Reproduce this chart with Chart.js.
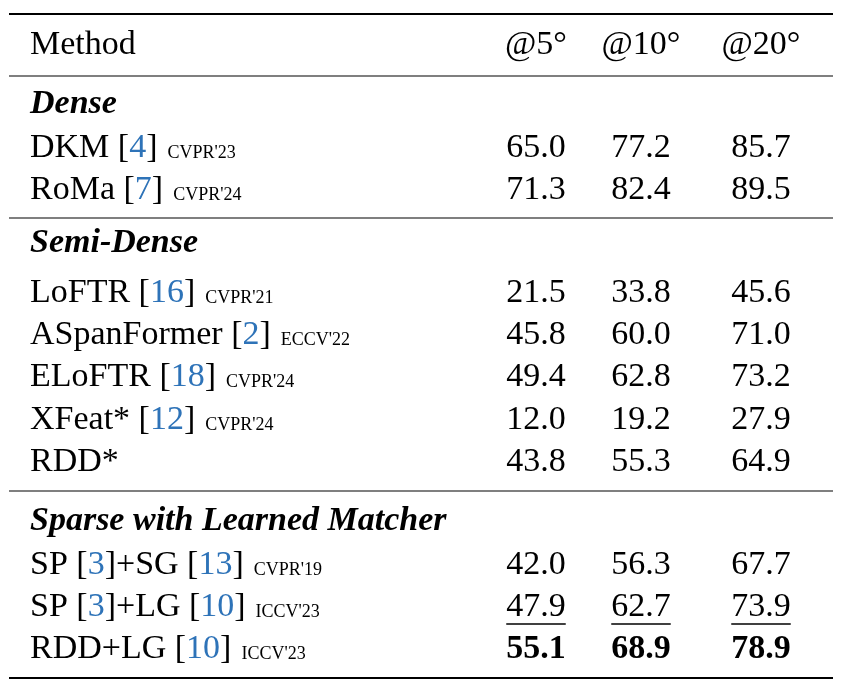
<!DOCTYPE html>
<html><head><meta charset="utf-8">
<script src="https://cdn.jsdelivr.net/npm/chart.js@4/dist/chart.umd.min.js"></script>
<style>html,body{margin:0;padding:0;background:#fff}#c{display:block}</style>
</head><body>
<div style="width:842px;height:686px"><canvas id="c"></canvas></div>
<script>
const headers = ['Method','@5°','@10°','@20°'];
const sections = ['Dense','Semi-Dense','Sparse with Learned Matcher'];
const methods = ['DKM [4]','RoMa [7]','LoFTR [16]','ASpanFormer [2]','ELoFTR [18]','XFeat* [12]','RDD*','SP [3]+SG [13]','SP [3]+LG [10]','RDD+LG [10]'];
const venues = ["CVPR'23","CVPR'24","CVPR'21","ECCV'22","CVPR'24","CVPR'24","","CVPR'19","ICCV'23","ICCV'23"];
const at5 = [65.0,71.3,21.5,45.8,49.4,12.0,43.8,42.0,47.9,55.1];
const at10 = [77.2,82.4,33.8,60.0,62.8,19.2,55.3,56.3,62.7,68.9];
const at20 = [85.7,89.5,45.6,71.0,73.2,27.9,64.9,67.7,73.9,78.9];

// layout
const colX = [30,536,641,761];
const headerY = 45, sectionY = [104,243,521];
const rowY = [148,190,293,335,377,420,462,565,607,649];
const rules = [[14,2.2],[76,1.1],[218,1.1],[491,1.1],[678,2.2]];
const F = '"Liberation Serif", "DejaVu Serif", serif';
const BLUE = '#2e73b8';
const FS = 34;

const cols=[at5,at10,at20];
const datasets = cols.map((arr,ci)=>({data:arr.map((v,i)=>({x:colX[ci+1],y:rowY[i],v})),pointRadius:0,showLine:false}));

const tablePlugin={id:'tbl',afterDatasetsDraw(chart){
  const ctx=chart.ctx, xs=chart.scales.x, ys=chart.scales.y;
  ctx.save();
  ctx.strokeStyle='#000';
  rules.forEach(([y,w])=>{ctx.lineWidth=w;ctx.beginPath();ctx.moveTo(xs.getPixelForValue(9),ys.getPixelForValue(y));ctx.lineTo(xs.getPixelForValue(833),ys.getPixelForValue(y));ctx.stroke();});
  ctx.textBaseline='middle';ctx.fillStyle='#000';
  ctx.font=FS+'px '+F;
  ctx.textAlign='left';ctx.fillText(headers[0],xs.getPixelForValue(colX[0]),ys.getPixelForValue(headerY));
  ctx.textAlign='center';
  for(let c=1;c<4;c++) ctx.fillText(headers[c],xs.getPixelForValue(colX[c]),ys.getPixelForValue(headerY));
  ctx.textAlign='left';ctx.font='italic bold '+FS+'px '+F;
  sections.forEach((s,i)=>ctx.fillText(s,xs.getPixelForValue(colX[0]),ys.getPixelForValue(sectionY[i])));
  methods.forEach((m,i)=>{
    let x=xs.getPixelForValue(colX[0]); const y=ys.getPixelForValue(rowY[i]);
    ctx.font=FS+'px '+F;
    const parts=m.split(/(\[\d+\])/);
    parts.forEach(p=>{
      const mm=p.match(/^\[(\d+)\]$/);
      if(mm){
        ctx.fillStyle='#000';ctx.fillText('[',x,y);x+=ctx.measureText('[').width;
        ctx.fillStyle=BLUE;ctx.fillText(mm[1],x,y);x+=ctx.measureText(mm[1]).width;
        ctx.fillStyle='#000';ctx.fillText(']',x,y);x+=ctx.measureText(']').width;
      } else {ctx.fillStyle='#000';ctx.fillText(p,x,y);x+=ctx.measureText(p).width;}
    });
    if(venues[i]){ctx.font='18px '+F;ctx.fillStyle='#000';ctx.fillText(venues[i],x+10,y+5);}
  });
  ctx.textAlign='center';
  chart.data.datasets.forEach((ds,di)=>{
    const meta=chart.getDatasetMeta(di);
    meta.data.forEach((pt,i)=>{
      const v=ds.data[i].v.toFixed(1);
      ctx.font=(i===9?'bold ':'')+FS+'px '+F;ctx.fillStyle='#000';
      ctx.fillText(v,pt.x,pt.y);
      if(i===8){const w=ctx.measureText(v).width;ctx.lineWidth=1.3;ctx.beginPath();ctx.moveTo(pt.x-w/2,pt.y+17);ctx.lineTo(pt.x+w/2,pt.y+17);ctx.stroke();}
    });
  });
  ctx.restore();
}};

new Chart(document.getElementById('c'),{type:'scatter',data:{datasets},
 options:{responsive:true,maintainAspectRatio:false,animation:false,
  layout:{padding:0},
  plugins:{legend:{display:false},tooltip:{enabled:false}},
  scales:{x:{type:'linear',min:0,max:842,display:false},y:{type:'linear',min:0,max:686,reverse:true,display:false}}},
 plugins:[tablePlugin]});
</script>
</body></html>
